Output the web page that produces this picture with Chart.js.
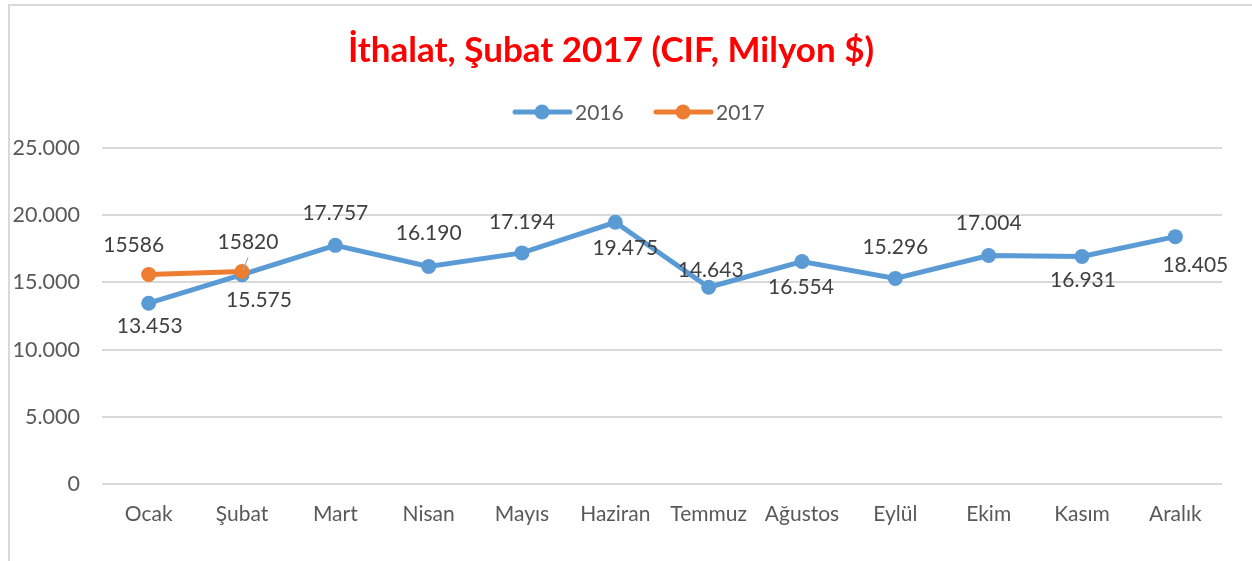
<!DOCTYPE html>
<html lang="tr">
<head>
<meta charset="utf-8">
<title>İthalat, Şubat 2017</title>
<script src="https://cdn.jsdelivr.net/npm/chart.js@4.4.1/dist/chart.umd.min.js"></script>
<style>
  html, body { margin: 0; padding: 0; background: #fff; overflow: hidden; }
  #wrap { position: relative; width: 1252px; height: 561px; }
  #frame {
    position: absolute; left: 8px; top: 4px; width: 1400px; height: 700px;
    border-left: 2px solid #d9d9d9; border-top: 2px solid #d9d9d9;
    pointer-events: none;
  }
  canvas { position: absolute; left: 0; top: 0; }
</style>
</head>
<body>
<div id="wrap">
  <canvas id="chart" width="1252" height="561"></canvas>
  <div id="frame"></div>
</div>
<script>
'use strict';

const MONTHS = ['Ocak', 'Şubat', 'Mart', 'Nisan', 'Mayıs', 'Haziran', 'Temmuz', 'Ağustos', 'Eylül', 'Ekim', 'Kasım', 'Aralık'];
const IMPORTS_2016 = [13453, 15575, 17757, 16190, 17194, 19475, 14643, 16554, 15296, 17004, 16931, 18405];
const IMPORTS_2017 = [15586, 15820];
const Y_TICK_LABELS = ['0', '5.000', '10.000', '15.000', '20.000', '25.000'];
const SERIES_NAMES = ['2016', '2017'];

const BLUE = '#5b9bd5';
const ORANGE = '#ed7d31';
const FONT = "Lato, Calibri, Carlito, sans-serif";

// ─── Label placement (pixel offsets from each point) ─────────────────────────

const LABEL_OFFSETS_2016 = [[1, 23], [17, 26], [0, -32], [0, -33], [0, -31], [10, 26],
  [2, -17], [-1, 26], [0, -31], [0, -32], [1, 24], [20, 29]];
const LABEL_OFFSETS_2017 = [[-15, -29], [6, -29]];

const fmtDot = (v) => String(v).replace(/\B(?=(\d{3})+(?!\d))/g, '.');

const dataLabels = {
  id: 'dataLabels',
  afterDatasetsDraw(chart) {
    const ctx = chart.ctx;
    ctx.save();
    ctx.font = `21px ${FONT}`;
    ctx.fillStyle = '#404040';
    ctx.textAlign = 'center';
    ctx.textBaseline = 'middle';

    chart.getDatasetMeta(0).data.forEach((pt, i) => {
      const [dx, dy] = LABEL_OFFSETS_2016[i];
      ctx.fillText(fmtDot(IMPORTS_2016[i]), pt.x + dx, pt.y + dy);
    });

    chart.getDatasetMeta(1).data.forEach((pt, i) => {
      const [dx, dy] = LABEL_OFFSETS_2017[i];
      ctx.fillText(String(IMPORTS_2017[i]), pt.x + dx, pt.y + dy);
    });

    // leader line for the shifted Şubat 2017 label
    const p = chart.getDatasetMeta(1).data[1];
    ctx.strokeStyle = '#a6a6a6';
    ctx.lineWidth = 1.2;
    ctx.beginPath();
    ctx.moveTo(p.x + 6, p.y - 14);
    ctx.lineTo(p.x + 1, p.y - 1);
    ctx.stroke();
    ctx.restore();
  },
};

// Excel-style legend: line with marker, then the series name
const lineLegend = {
  id: 'lineLegend',
  afterDraw(chart) {
    const ctx = chart.ctx;
    const y = 112;
    const items = [{ x: 515, color: BLUE }, { x: 656, color: ORANGE }];
    ctx.save();
    ctx.font = `21px ${FONT}`;
    ctx.textBaseline = 'middle';
    ctx.textAlign = 'left';
    items.forEach((it, i) => {
      ctx.strokeStyle = it.color;
      ctx.lineWidth = 5;
      ctx.lineCap = 'round';
      ctx.beginPath();
      ctx.moveTo(it.x, y);
      ctx.lineTo(it.x + 55, y);
      ctx.stroke();
      ctx.fillStyle = it.color;
      ctx.beginPath();
      ctx.arc(it.x + 27, y, 7.5, 0, Math.PI * 2);
      ctx.fill();
      ctx.fillStyle = '#595959';
      ctx.fillText(SERIES_NAMES[i], it.x + 60, y + 1);
    });
    ctx.restore();
  },
};

new Chart(document.getElementById('chart'), {
  type: 'line',
  data: {
    labels: MONTHS,
    datasets: [
      {
        label: SERIES_NAMES[0],
        data: IMPORTS_2016,
        borderColor: BLUE,
        backgroundColor: BLUE,
        borderWidth: 5,
        pointRadius: 7.5,
        pointBorderWidth: 0,
        pointBackgroundColor: BLUE,
        tension: 0,
        order: 1,
      },
      {
        label: SERIES_NAMES[1],
        data: IMPORTS_2017,
        borderColor: ORANGE,
        backgroundColor: ORANGE,
        borderWidth: 5,
        pointRadius: 7.5,
        pointBorderWidth: 0,
        pointBackgroundColor: ORANGE,
        tension: 0,
        order: 0,
      },
    ],
  },
  options: {
    responsive: false,
    animation: false,
    devicePixelRatio: 1,
    layout: { padding: { left: 0, right: 30, top: 0, bottom: 27 } },
    plugins: {
      legend: { display: false },
      tooltip: { enabled: false },
      title: {
        display: true,
        text: 'İthalat, Şubat 2017 (CIF, Milyon $)',
        color: '#ff0000',
        font: { family: FONT, size: 35, weight: 'bold', lineHeight: 1.2 },
        padding: { top: 30, bottom: 76 },
      },
    },
    scales: {
      x: {
        offset: true,
        grid: { display: false, drawTicks: false, offset: true },
        border: { display: false },
        ticks: { color: '#595959', font: { family: FONT, size: 21 }, padding: 18, maxRotation: 0, autoSkip: false },
        afterFit: (s) => { s.height = 50; },
      },
      y: {
        min: 0,
        max: 25000,
        grid: { color: '#d9d9d9', lineWidth: 2, drawTicks: false },
        border: { display: false },
        ticks: {
          stepSize: 5000,
          color: '#595959',
          font: { family: FONT, size: 21.5 },
          padding: 22,
          callback: (v, i) => Y_TICK_LABELS[i],
        },
        afterFit: (s) => { s.width = 102; },
      },
    },
  },
  plugins: [dataLabels, lineLegend],
});
</script>
</body>
</html>
